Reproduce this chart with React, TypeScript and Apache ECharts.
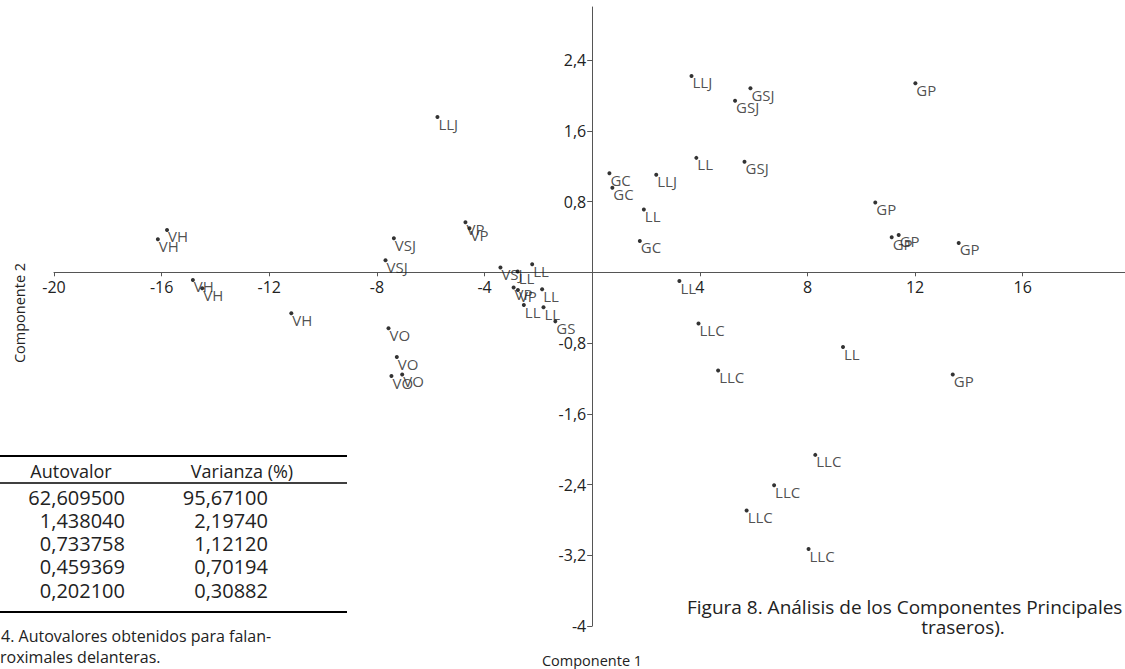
import React, { useEffect, useRef } from 'react';
import * as echarts from 'echarts';

const pointX = [
  -16.14, -15.8, -14.84, -14.49, -11.18,
  -7.37, -7.68, -7.57, -7.26, -7.46, -7.06,
  -4.71, -4.56, -5.75,
  -3.41, -2.77, -2.23, -2.92, -2.76, -1.86, -2.54, -1.81, -1.37,
  3.69, 5.88, 5.31, 3.87, 5.66, 0.64, 0.75, 2.38, 1.92, 1.77, 3.24,
  12.01, 10.52, 11.13, 11.39, 13.62, 9.32, 13.4,
  3.95, 4.68, 8.29, 6.76, 5.74, 8.04,
];
const pointY = [
  0.374, 0.479, -0.087, -0.181, -0.464,
  0.385, 0.136, -0.634, -0.959, -1.174, -1.155,
  0.566, 0.498, 1.755,
  0.053, 0.008, 0.091, -0.173, -0.2, -0.193, -0.37, -0.396, -0.555,
  2.22, 2.08, 1.94, 1.294, 1.249, 1.121, 0.955, 1.102, 0.71, 0.354, -0.099,
  2.137, 0.789, 0.396, 0.422, 0.332, -0.846, -1.155,
  -0.578, -1.11, -2.065, -2.409, -2.695, -3.13,
];
const pointLabel = [
  'VH', 'VH', 'VH', 'VH', 'VH',
  'VSJ', 'VSJ', 'VO', 'VO', 'VO', 'VO',
  'VP', 'VP', 'LLJ',
  'VSJ', 'LL', 'LL', 'VP', 'VP', 'LL', 'LL', 'LL', 'GS',
  'LLJ', 'GSJ', 'GSJ', 'LL', 'GSJ', 'GC', 'GC', 'LLJ', 'LL', 'GC', 'LL',
  'GP', 'GP', 'GP', 'GP', 'GP', 'LL', 'GP',
  'LLC', 'LLC', 'LLC', 'LLC', 'LLC', 'LLC',
];

const xTicks = [-20, -16, -12, -8, -4, 4, 8, 12, 16];
const yTicks = [-4, -3.2, -2.4, -1.6, -0.8, 0.8, 1.6, 2.4];

const tableHeaders = ['Autovalor', 'Varianza (%)'];
const tableAutovalor = ['62,609500', '1,438040', '0,733758', '0,459369', '0,202100'];
const tableVarianza = ['95,67100', '2,19740', '1,12120', '0,70194', '0,30882'];
const tableCaption = ['4. Autovalores obtenidos para falan-', 'roximales delanteras.'];
const figureCaption = ['Figura 8. Análisis de los Componentes Principales', 'traseros).'];
const xAxisName = 'Componente 1';
const yAxisName = 'Componente 2';

const FONT = '"Open Sans", "Noto Sans", sans-serif';
const TXT = '#222';

const X_MIN = -20, X_MAX = 19.8, Y_MIN = -4, Y_MAX = 3;
const G_LEFT = 54, G_RIGHT = 0, G_TOP = 7, G_BOTTOM = 43, W = 1125, H = 669;

export default function App() {
  const ref = useRef<HTMLDivElement>(null);
  useEffect(() => {
    if (!ref.current) return;
    const chart = echarts.init(ref.current, null, { renderer: 'svg' });
    const fmt = (v: number) => String(v).replace('.', ',');

    const gw = W - G_LEFT - G_RIGHT;
    const gh = H - G_TOP - G_BOTTOM;
    const yAxisOffset = -((0 - X_MIN) / (X_MAX - X_MIN)) * gw;
    const xAxisOffset = -((0 - Y_MIN) / (Y_MAX - Y_MIN)) * gh;

    const rowY0 = 497;
    const rowStep = 23.3;
    const graphic: any[] = [
      { type: 'text', x: 592, y: 660, style: { text: xAxisName, fill: TXT, fontSize: 14.5, fontFamily: FONT, align: 'center', verticalAlign: 'middle' } },
      { type: 'text', x: 19, y: 313, rotation: Math.PI / 2, style: { text: yAxisName, fill: TXT, fontSize: 14.5, fontFamily: FONT, align: 'center', verticalAlign: 'middle' } },
      { type: 'line', shape: { x1: 0, y1: 456, x2: 347, y2: 456 }, style: { stroke: '#000', lineWidth: 2 } },
      { type: 'line', shape: { x1: 0, y1: 483, x2: 347, y2: 483 }, style: { stroke: '#000', lineWidth: 1.5 } },
      { type: 'line', shape: { x1: 0, y1: 612, x2: 347, y2: 612 }, style: { stroke: '#000', lineWidth: 2 } },
      { type: 'text', x: 71, y: 471, style: { text: tableHeaders[0], fill: TXT, fontSize: 18, fontFamily: FONT, align: 'center', verticalAlign: 'middle' } },
      { type: 'text', x: 242, y: 471, style: { text: tableHeaders[1], fill: TXT, fontSize: 18, fontFamily: FONT, align: 'center', verticalAlign: 'middle' } },
      { type: 'text', x: 1, y: 636, style: { text: tableCaption[0], fill: TXT, fontSize: 16, fontFamily: FONT, align: 'left', verticalAlign: 'middle' } },
      { type: 'text', x: 0, y: 657, style: { text: tableCaption[1], fill: TXT, fontSize: 16, fontFamily: FONT, align: 'left', verticalAlign: 'middle' } },
      { type: 'text', x: 687, y: 607, style: { text: figureCaption[0], fill: TXT, fontSize: 19, fontFamily: FONT, align: 'left', verticalAlign: 'middle' } },
      { type: 'text', x: 963, y: 627, style: { text: figureCaption[1], fill: TXT, fontSize: 19, fontFamily: FONT, align: 'center', verticalAlign: 'middle' } },
    ];
    tableAutovalor.forEach((t, i) => {
      graphic.push({ type: 'text', x: 125, y: rowY0 + i * rowStep, style: { text: t, fill: TXT, fontSize: 20, fontFamily: FONT, align: 'right', verticalAlign: 'middle' } });
    });
    tableVarianza.forEach((t, i) => {
      graphic.push({ type: 'text', x: 268, y: rowY0 + i * rowStep, style: { text: t, fill: TXT, fontSize: 20, fontFamily: FONT, align: 'right', verticalAlign: 'middle' } });
    });

    chart.setOption({
      animation: false,
      grid: { left: G_LEFT, right: G_RIGHT, top: G_TOP, bottom: G_BOTTOM, containLabel: false },
      xAxis: {
        type: 'value', min: X_MIN, max: X_MAX, position: 'bottom', offset: xAxisOffset,
        axisLine: { onZero: false, lineStyle: { color: '#555', width: 1 } },
        axisTick: { show: true, length: 4, customValues: xTicks, lineStyle: { color: '#555' } },
        axisLabel: { customValues: xTicks, formatter: fmt, color: TXT, fontSize: 16, fontFamily: FONT, margin: 7 },
        splitLine: { show: false },
      },
      yAxis: {
        type: 'value', min: Y_MIN, max: Y_MAX, position: 'left', offset: yAxisOffset,
        axisLine: { onZero: false, lineStyle: { color: '#555', width: 1 } },
        axisTick: { show: true, length: 5, customValues: yTicks, lineStyle: { color: '#555' } },
        axisLabel: { customValues: yTicks, formatter: fmt, color: TXT, fontSize: 16, fontFamily: FONT, margin: 6 },
        splitLine: { show: false },
      },
      series: [{
        type: 'scatter',
        symbol: 'circle',
        symbolSize: 4,
        itemStyle: { color: '#000' },
        data: pointX.map((x, i) => [x, pointY[i]]),
        label: {
          show: true,
          formatter: (p: any) => pointLabel[p.dataIndex],
          position: [3, 1],
          align: 'left',
          verticalAlign: 'top',
          color: TXT,
          fontSize: 15,
          fontFamily: FONT,
        },
        emphasis: { disabled: true },
      }],
      graphic,
    });
    return () => chart.dispose();
  }, []);
  return <div ref={ref} style={{ position: 'fixed', left: 0, top: 0, width: W, height: H, background: '#fff' }} />;
}
